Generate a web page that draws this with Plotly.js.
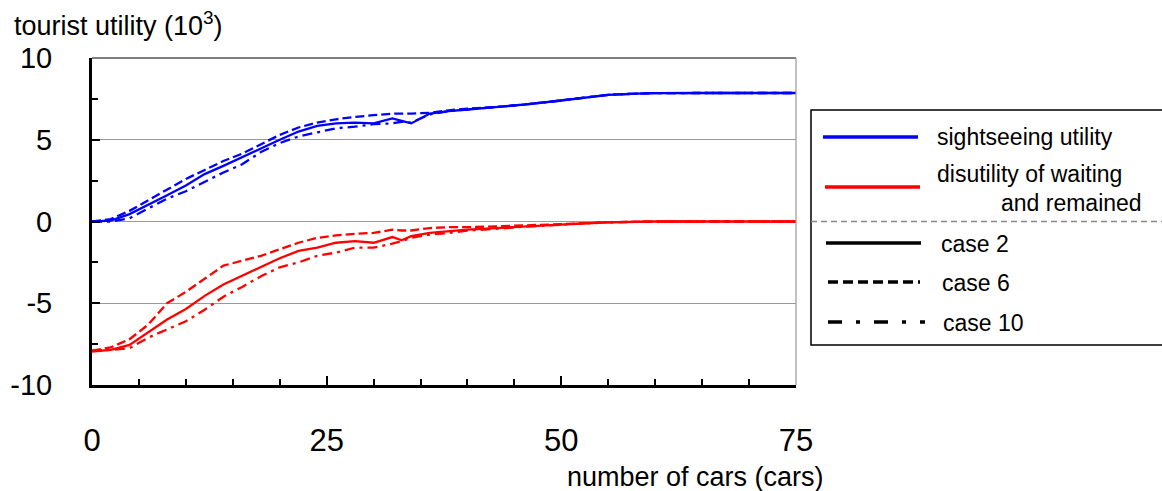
<!DOCTYPE html>
<html>
<head>
<meta charset="utf-8">
<script src="https://cdn.plot.ly/plotly-3.0.1.min.js"></script>
<style>html,body{margin:0;padding:0;background:#fff;}#chart{width:1162px;height:491px;}</style>
</head>
<body>
<div id="chart"></div>
<script>
// number of cars
const cars = [0,2,4,6,8,10,12,14,16,18,20,22,24,26,28,30,32,33,34,36,38,40,43,46,50,53,55,58,60,65,70,75];

// sightseeing utility (10^3)
const sightCase2  = [0,0.05,0.45,1.0,1.6,2.2,2.9,3.4,3.95,4.5,5.0,5.5,5.85,6.0,6.05,6.0,6.3,6.15,6.0,6.6,6.75,6.85,7.0,7.15,7.4,7.6,7.75,7.82,7.85,7.86,7.86,7.86];
const sightCase6  = [0,0.15,0.65,1.3,1.95,2.6,3.15,3.7,4.15,4.75,5.3,5.75,6.05,6.25,6.4,6.5,6.6,6.6,6.6,6.65,6.8,6.9,7.0,7.15,7.4,7.6,7.75,7.82,7.85,7.86,7.86,7.86];
const sightCase10 = [0,0,0.2,0.8,1.4,1.85,2.45,3.0,3.5,4.25,4.8,5.2,5.45,5.7,5.8,5.95,6.0,6.1,6.05,6.55,6.75,6.85,7.0,7.15,7.4,7.6,7.75,7.82,7.85,7.86,7.86,7.86];

// disutility of waiting and remained (10^3)
const disCase2  = [-7.95,-7.85,-7.55,-6.75,-6.0,-5.35,-4.55,-3.85,-3.3,-2.75,-2.25,-1.8,-1.6,-1.3,-1.2,-1.3,-0.95,-1.15,-0.9,-0.7,-0.6,-0.5,-0.4,-0.3,-0.2,-0.1,-0.05,-0.02,0,0,0,0];
const disCase6  = [-7.9,-7.7,-7.2,-6.3,-5.0,-4.3,-3.5,-2.7,-2.4,-2.1,-1.7,-1.3,-1.0,-0.85,-0.75,-0.7,-0.5,-0.55,-0.55,-0.4,-0.35,-0.35,-0.3,-0.25,-0.18,-0.1,-0.05,-0.02,0,0,0,0];
const disCase10 = [-7.9,-7.85,-7.75,-7.1,-6.6,-6.1,-5.4,-4.6,-4.0,-3.35,-2.8,-2.5,-2.1,-1.9,-1.6,-1.6,-1.35,-1.2,-1.0,-0.8,-0.7,-0.55,-0.45,-0.32,-0.2,-0.1,-0.05,-0.02,0,0,0,0];

const xTicks = [0,25,50,75];
const yTicks = [-10,-5,0,5,10];

const BLUE = '#0000FF', RED = '#FF0000';
const DASH = '9px,4px';
const DASHDOT = '10px,5px,3px,5px';

function tr(y, color, dash) {
  return {x: cars, y: y, type: 'scatter', mode: 'lines', showlegend: false,
    line: {color: color, width: 2.3, dash: dash}, hoverinfo: 'skip'};
}
const data = [
  tr(sightCase10, BLUE, DASHDOT), tr(sightCase6, BLUE, DASH), tr(sightCase2, BLUE, 'solid'),
  tr(disCase10, RED, DASHDOT), tr(disCase6, RED, DASH), tr(disCase2, RED, 'solid')
];

// plot area pixel geometry
const L = 92, R = 796, T = 58, B = 385;
const px = v => (v - L) / (R - L);
const py = v => (B - v) / (B - T);

const shapes = [
  {type:'line', xref:'paper', yref:'paper', x0:0, x1:1, y0:1, y1:1, line:{color:'#000', width:1.2}},
  {type:'line', xref:'paper', yref:'paper', x0:1, x1:1, y0:0, y1:1, line:{color:'#999', width:1.2}},
  {type:'rect', xref:'paper', yref:'paper', x0:px(811), x1:px(1170), y0:py(345), y1:py(110), line:{color:'#000', width:1.5}},
  {type:'line', xref:'paper', yref:'paper', x0:px(811), x1:px(1162), y0:py(221.5), y1:py(221.5), line:{color:'#888', width:1.3, dash:'6px,4px'}},
  {type:'line', xref:'paper', yref:'paper', x0:px(823), x1:px(918), y0:py(137), y1:py(137), line:{color:BLUE, width:3.5}},
  {type:'line', xref:'paper', yref:'paper', x0:px(825), x1:px(920), y0:py(187), y1:py(187), line:{color:RED, width:3.5}},
  {type:'line', xref:'paper', yref:'paper', x0:px(826), x1:px(921), y0:py(243), y1:py(243), line:{color:'#000', width:3.5}},
  {type:'line', xref:'paper', yref:'paper', x0:px(828), x1:px(920), y0:py(282), y1:py(282), line:{color:'#000', width:3.5, dash:'10px,5px'}},
  {type:'line', xref:'paper', yref:'paper', x0:px(828), x1:px(925), y0:py(322), y1:py(322), line:{color:'#000', width:3.5, dash:'14px,14px,4px,14px'}}
];

const LF = {family:'Liberation Sans, Arial, sans-serif', size:23, color:'#000'};
function ann(text, x, y, xanchor) {
  return {text:text, xref:'paper', yref:'paper', x:px(x), y:py(y), xanchor:xanchor||'left', yanchor:'middle', showarrow:false, font:LF};
}
const annotations = [
  ann('sightseeing utility', 935, 137),
  ann('disutility of waiting', 935, 174),
  ann('and remained', 1144, 203, 'right'),
  ann('case 2', 939, 244),
  ann('case 6', 940, 283),
  ann('case 10', 941, 323),
  {text:'tourist utility (10<sup>3</sup>)', xref:'paper', yref:'paper', x:px(12), y:py(24), xanchor:'left', yanchor:'middle', showarrow:false,
   font:{family:'Liberation Sans, Arial, sans-serif', size:27, color:'#000'}},
  {text:'number of cars (cars)', xref:'paper', yref:'paper', x:px(826), y:py(477), xanchor:'right', yanchor:'middle', showarrow:false,
   font:{family:'Liberation Sans, Arial, sans-serif', size:27, color:'#000'}}
];

const layout = {
  width:1162, height:491,
  margin:{l:L, r:1162-R, t:T, b:491-B, pad:0},
  paper_bgcolor:'#fff', plot_bgcolor:'#fff',
  showlegend:false,
  xaxis:{range:[0,75], tickvals:xTicks, ticktext:xTicks.map(String), ticks:'inside', ticklen:9, tickwidth:2, tickcolor:'#000',
    minor:{dtick:5, tick0:0, ticks:'inside', ticklen:6, tickwidth:2, tickcolor:'#000', showgrid:false},
    showgrid:false, zeroline:false, showline:true, linecolor:'#000', linewidth:3,
    ticklabelstandoff:26,
    tickfont:{family:'Liberation Sans, Arial, sans-serif', size:31, color:'#000'}},
  yaxis:{range:[-10,10], tickvals:yTicks, ticktext:yTicks.map(String), ticks:'inside', ticklen:8, tickwidth:2, tickcolor:'#000',
    minor:{dtick:2.5, tick0:0, ticks:'inside', ticklen:6, tickwidth:2, tickcolor:'#000', showgrid:false},
    showgrid:true, gridcolor:'#999', gridwidth:1.2, zeroline:false, showline:true, linecolor:'#000', linewidth:3,
    ticklabelstandoff:31,
    tickfont:{family:'Liberation Sans, Arial, sans-serif', size:29, color:'#000'}},
  shapes:shapes,
  annotations:annotations
};

Plotly.newPlot('chart', data, layout, {displayModeBar:false, staticPlot:true});
</script>
</body>
</html>
